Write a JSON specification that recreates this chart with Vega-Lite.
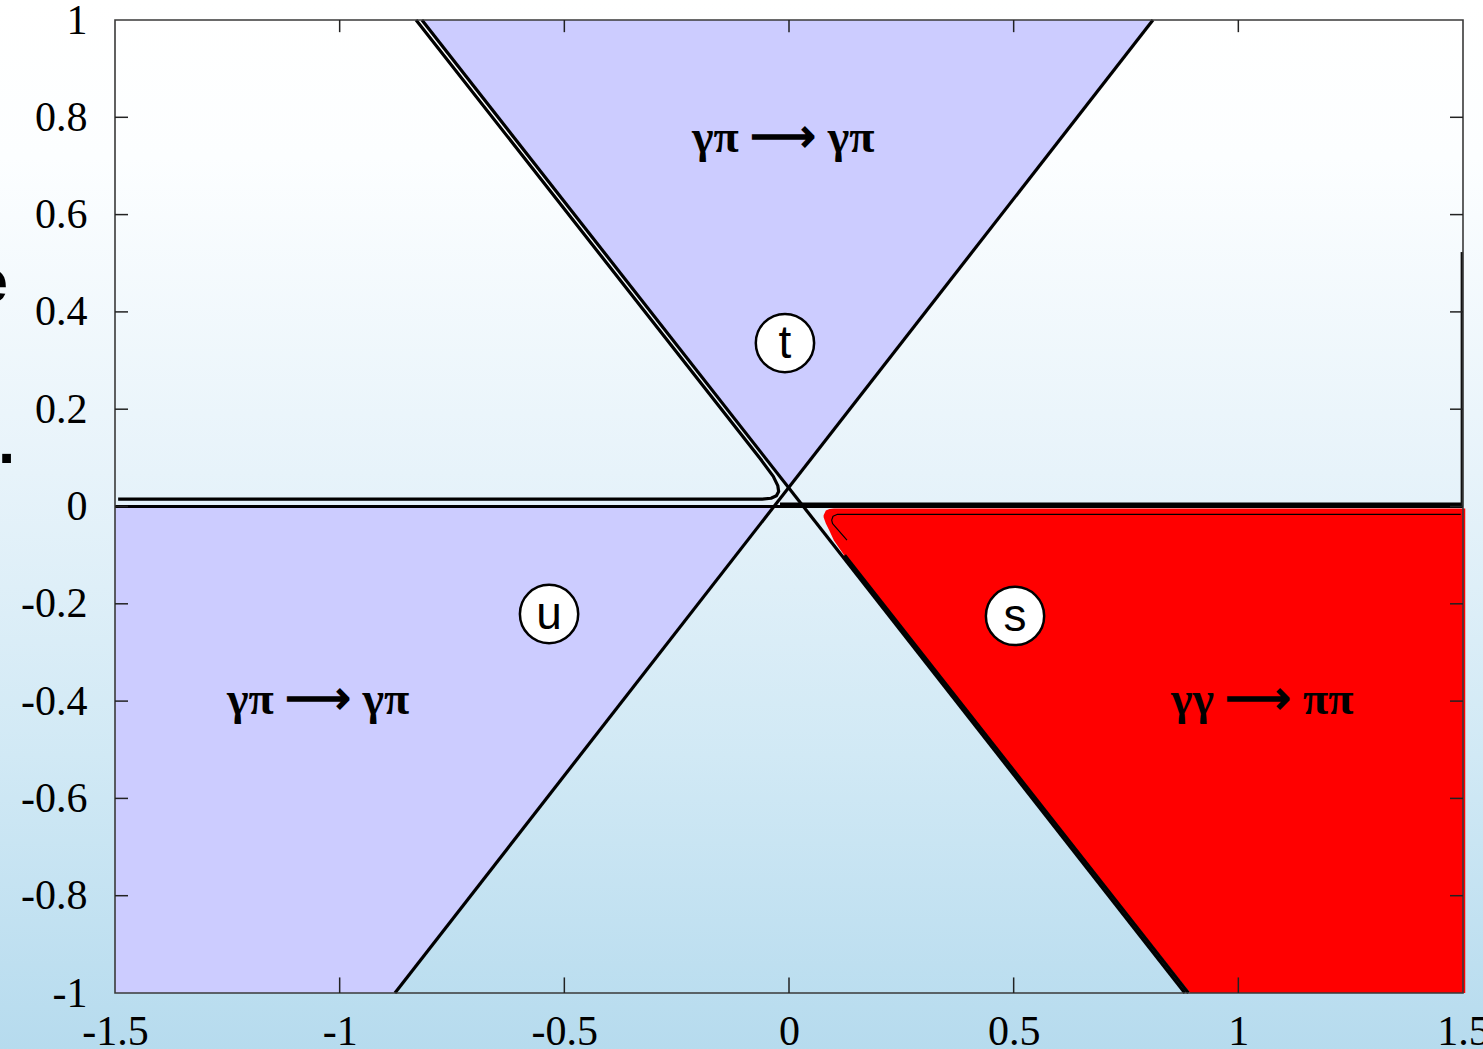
{
  "$schema": "https://vega.github.io/schema/vega-lite/v6.json",
  "width": 1348,
  "height": 973,
  "autosize": {"type": "none"},
  "padding": {"left": 115, "top": 20, "right": 20, "bottom": 56},
  "background": "#ffffff",
  "config": {
    "view": {"stroke": null},
    "axis": {"domain": false, "grid": false, "ticks": false,
             "labelFont": "Liberation Serif", "labelFontSize": 42, "labelColor": "#000000", "title": null}
  },
  "datasets": {
    "regions": [
      {"region": "t", "x": -0.817, "top": 1, "bottom": 1},
      {"region": "t", "x": 0.0, "top": 1, "bottom": 0.038},
      {"region": "t", "x": 0.81, "top": 1, "bottom": 1},
      {"region": "u", "x": -1.5, "top": 0, "bottom": -1},
      {"region": "u", "x": -0.877, "top": 0, "bottom": -1},
      {"region": "u", "x": -0.034, "top": 0, "bottom": 0},
      {"region": "s", "x": 0.077, "top": -0.018, "bottom": -0.022},
      {"region": "s", "x": 0.082, "top": -0.008, "bottom": -0.035},
      {"region": "s", "x": 0.09, "top": -0.005, "bottom": -0.05},
      {"region": "s", "x": 0.1, "top": -0.004, "bottom": -0.07},
      {"region": "s", "x": 0.16, "top": -0.004, "bottom": -0.15},
      {"region": "s", "x": 0.893, "top": -0.004, "bottom": -1},
      {"region": "s", "x": 1.505, "top": -0.004, "bottom": -1}
    ],
    "curves": [
      {"curve": "B", "i": 0, "x": -0.877, "y": -1},
      {"curve": "B", "i": 1, "x": 0.81, "y": 1},
      {"curve": "A", "i": 0, "x": -0.817, "y": 1},
      {"curve": "A", "i": 1, "x": 0.881, "y": -1},
      {"curve": "A2", "i": 0, "x": 0.124, "y": -0.1},
      {"curve": "A2", "i": 1, "x": 0.889, "y": -1},
      {"curve": "C", "i": 0, "x": -0.83, "y": 1},
      {"curve": "C", "i": 1, "x": -0.063, "y": 0.097},
      {"curve": "C", "i": 2, "x": -0.035, "y": 0.062},
      {"curve": "C", "i": 3, "x": -0.025, "y": 0.043},
      {"curve": "C", "i": 4, "x": -0.023, "y": 0.031},
      {"curve": "C", "i": 5, "x": -0.028, "y": 0.022},
      {"curve": "C", "i": 6, "x": -0.04, "y": 0.017},
      {"curve": "C", "i": 7, "x": -0.06, "y": 0.015},
      {"curve": "C", "i": 8, "x": -1.493, "y": 0.015},
      {"curve": "H0", "i": 0, "x": -1.5, "y": 0},
      {"curve": "H0", "i": 1, "x": 1.5, "y": 0},
      {"curve": "H1", "i": 0, "x": -0.02, "y": 0.005},
      {"curve": "H1", "i": 1, "x": 1.5, "y": 0.005},
      {"curve": "V", "i": 0, "x": 1.4975, "y": 0.523},
      {"curve": "V", "i": 1, "x": 1.4975, "y": 0.0},
      {"curve": "R", "i": 0, "x": 1.495, "y": -0.016},
      {"curve": "R", "i": 1, "x": 0.108, "y": -0.016},
      {"curve": "R", "i": 2, "x": 0.098, "y": -0.02},
      {"curve": "R", "i": 3, "x": 0.095, "y": -0.028},
      {"curve": "R", "i": 4, "x": 0.097, "y": -0.035},
      {"curve": "R", "i": 5, "x": 0.129, "y": -0.069}
    ],
    "channels": [
      {"name": "t", "x": -0.009, "y": 0.336},
      {"name": "u", "x": -0.534, "y": -0.221},
      {"name": "s", "x": 0.503, "y": -0.225}
    ],
    "processes": [
      {"process": "γπ ⟶ γπ", "x": -0.013, "y": 0.757},
      {"process": "γπ ⟶ γπ", "x": -1.048, "y": -0.398},
      {"process": "γγ ⟶ ππ", "x": 1.053, "y": -0.398}
    ],
    "margin_text": [
      {"text": "e", "x": -1.738, "y": 0.42},
      {"text": ".", "x": -1.722, "y": 0.09}
    ],
    "yticks": [{"v": -0.8}, {"v": -0.6}, {"v": -0.4}, {"v": -0.2}, {"v": 0}, {"v": 0.2}, {"v": 0.4}, {"v": 0.6}, {"v": 0.8}],
    "xticks": [{"v": -1}, {"v": -0.5}, {"v": 0}, {"v": 0.5}, {"v": 1}]
  },
  "layer": [
    {
      "data": {"values": [{}]},
      "mark": {"type": "rect",
        "color": {"gradient": "linear", "x1": 0, "y1": 0, "x2": 0, "y2": 1,
          "stops": [
            {"offset": 0, "color": "#ffffff"},
            {"offset": 0.15, "color": "#fcfeff"},
            {"offset": 0.45, "color": "#e7f3fa"},
            {"offset": 0.72, "color": "#d1e9f5"},
            {"offset": 1, "color": "#b6dbee"}
          ]}},
      "encoding": {
        "x": {"datum": -1.757, "type": "quantitative",
              "scale": {"domain": [-1.5, 1.5], "nice": false, "zero": false},
              "axis": {"orient": "bottom", "zindex": 2, "values": [-1.5, -1, -0.5, 0, 0.5, 1, 1.5],
                       "labelExpr": "'' + datum.value", "labelFlush": false, "labelPadding": 18}},
        "x2": {"datum": 1.546},
        "y": {"datum": -1.117, "type": "quantitative",
              "scale": {"domain": [-1, 1], "nice": false, "zero": false},
              "axis": {"orient": "left", "zindex": 2, "values": [-1, -0.8, -0.6, -0.4, -0.2, 0, 0.2, 0.4, 0.6, 0.8, 1],
                       "labelExpr": "'' + datum.value", "labelPadding": 28, "labelBaseline": "middle"}},
        "y2": {"datum": 1.042}
      }
    },
    {
      "data": {"name": "margin_text"},
      "mark": {"type": "text", "font": "Liberation Sans", "fontWeight": "bold", "fontSize": 62, "color": "#000000", "baseline": "alphabetic", "align": "right"},
      "encoding": {
        "x": {"field": "x", "type": "quantitative"},
        "y": {"field": "y", "type": "quantitative"},
        "text": {"field": "text"}
      }
    },
    {
      "data": {"name": "regions"},
      "transform": [{"filter": "datum.region !== 's'"}],
      "mark": {"type": "area", "color": "#ccccff", "opacity": 1},
      "encoding": {
        "x": {"field": "x", "type": "quantitative"},
        "y": {"field": "top", "type": "quantitative"},
        "y2": {"field": "bottom"},
        "detail": {"field": "region"}
      }
    },
    {
      "data": {"name": "regions"},
      "transform": [{"filter": "datum.region === 's'"}],
      "mark": {"type": "area", "color": "#ff0000", "opacity": 1},
      "encoding": {
        "x": {"field": "x", "type": "quantitative"},
        "y": {"field": "top", "type": "quantitative"},
        "y2": {"field": "bottom"}
      }
    },
    {
      "data": {"name": "curves"},
      "transform": [{"filter": "datum.curve !== 'R' && datum.curve !== 'V'"}],
      "mark": {"type": "line", "color": "#000000", "strokeWidth": 3.2, "strokeJoin": "round"},
      "encoding": {
        "x": {"field": "x", "type": "quantitative"},
        "y": {"field": "y", "type": "quantitative"},
        "order": {"field": "i"},
        "detail": {"field": "curve"}
      }
    },
    {
      "data": {"name": "curves"},
      "transform": [{"filter": "datum.curve === 'V'"}],
      "mark": {"type": "line", "color": "#111111", "strokeWidth": 2.5},
      "encoding": {
        "x": {"field": "x", "type": "quantitative"},
        "y": {"field": "y", "type": "quantitative"},
        "order": {"field": "i"}
      }
    },
    {
      "data": {"name": "curves"},
      "transform": [{"filter": "datum.curve === 'R'"}],
      "mark": {"type": "line", "color": "#000000", "strokeWidth": 1.2, "strokeJoin": "round"},
      "encoding": {
        "x": {"field": "x", "type": "quantitative"},
        "y": {"field": "y", "type": "quantitative"},
        "order": {"field": "i"}
      }
    },
    {
      "data": {"values": [{}]},
      "mark": {"type": "rect", "filled": false, "stroke": "#3a3a3a", "strokeWidth": 1.6},
      "encoding": {
        "x": {"datum": -1.5, "type": "quantitative"},
        "x2": {"datum": 1.5},
        "y": {"datum": -1, "type": "quantitative"},
        "y2": {"datum": 1}
      }
    },
    {
      "data": {"name": "yticks"},
      "mark": {"type": "rule", "color": "#222222", "strokeWidth": 1.5},
      "encoding": {
        "y": {"field": "v", "type": "quantitative"},
        "x": {"datum": -1.5, "type": "quantitative"},
        "x2": {"datum": -1.471}
      }
    },
    {
      "data": {"name": "yticks"},
      "mark": {"type": "rule", "color": "#222222", "strokeWidth": 1.5},
      "encoding": {
        "y": {"field": "v", "type": "quantitative"},
        "x": {"datum": 1.5, "type": "quantitative"},
        "x2": {"datum": 1.471}
      }
    },
    {
      "data": {"name": "xticks"},
      "mark": {"type": "rule", "color": "#222222", "strokeWidth": 1.5},
      "encoding": {
        "x": {"field": "v", "type": "quantitative"},
        "y": {"datum": -1, "type": "quantitative"},
        "y2": {"datum": -0.968}
      }
    },
    {
      "data": {"name": "xticks"},
      "mark": {"type": "rule", "color": "#222222", "strokeWidth": 1.5},
      "encoding": {
        "x": {"field": "v", "type": "quantitative"},
        "y": {"datum": 1, "type": "quantitative"},
        "y2": {"datum": 0.975}
      }
    },
    {
      "data": {"name": "channels"},
      "mark": {"type": "point", "shape": "circle", "filled": true, "fill": "#ffffff", "stroke": "#000000", "strokeWidth": 2.5, "size": 3400, "opacity": 1},
      "encoding": {
        "x": {"field": "x", "type": "quantitative"},
        "y": {"field": "y", "type": "quantitative"}
      }
    },
    {
      "data": {"name": "channels"},
      "mark": {"type": "text", "font": "Liberation Sans", "fontSize": 46, "color": "#000000", "baseline": "middle", "align": "center", "dy": 1},
      "encoding": {
        "x": {"field": "x", "type": "quantitative"},
        "y": {"field": "y", "type": "quantitative"},
        "text": {"field": "name"}
      }
    },
    {
      "data": {"name": "processes"},
      "mark": {"type": "text", "font": "Liberation Serif", "fontWeight": "bold", "fontSize": 46, "color": "#000000", "baseline": "middle", "align": "center"},
      "encoding": {
        "x": {"field": "x", "type": "quantitative"},
        "y": {"field": "y", "type": "quantitative"},
        "text": {"field": "process"}
      }
    }
  ]
}
